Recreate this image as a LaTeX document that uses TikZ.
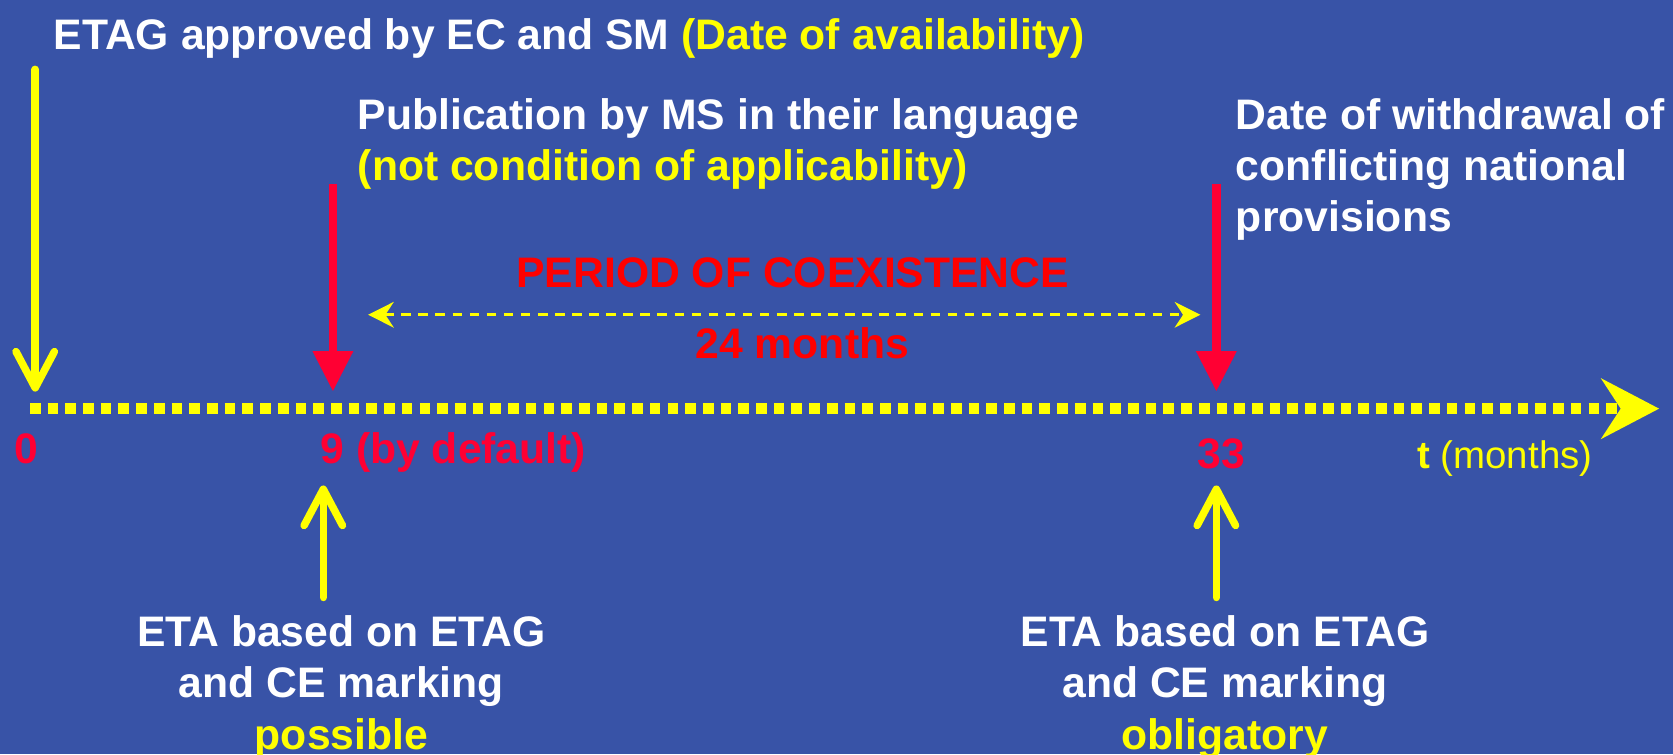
\documentclass[tikz,border=0pt]{standalone}
\usepackage{fontspec}
\setmainfont{Liberation Sans}
\usetikzlibrary{positioning, arrows.meta}
\definecolor{slide}{RGB}{56,83,167}
\definecolor{tick}{RGB}{255,0,51}
\definecolor{hot}{RGB}{255,0,0}
\definecolor{lemon}{RGB}{255,255,0}
\begin{document}
\begin{tikzpicture}[x=0.5pt, y=-0.5pt,
	txt/.style={font=\fontsize{20}{24}\selectfont\bfseries, text=white, inner sep=0pt},
	yarrow/.style={draw=lemon, line width=3.5pt, line cap=round, -{Straight Barb[length=17pt, width=18pt, line cap=round, line join=round]}},
	rarrow/.style={draw=tick, line width=4pt, -{Triangle[length=19pt, width=18pt]}}]
	\useasboundingbox (0,0) rectangle (1568,707);
	\fill[slide] (0,0) rectangle (1568,707);
	\node[txt, anchor=base west] (approved) at (50,46) {ETAG approved by EC and SM \textcolor{lemon}{(Date of availability)}};
	\node[txt, anchor=base west, align=left] (publication) at (335,169) {Publication by MS in their language\\\textcolor{lemon}{(not condition of applicability)}};
	\node[txt, anchor=base west, align=left] (withdrawal) at (1158,217) {Date of withdrawal of\\conflicting national\\provisions};
	\node[txt, text=hot, anchor=base] (period) at (743,269) {PERIOD OF COEXISTENCE};
	\node[txt, text=hot, anchor=base] (months24) at (752,336) {24 months};
	\node[txt, text=tick, anchor=base] (t0) at (25,434) {0};
	\node[txt, text=tick, anchor=base west] (t9) at (300,434) {9 (by default)};
	\node[txt, text=tick, anchor=base] (t33) at (1145,439) {33};
	\node[txt, text=lemon, anchor=base west, font=\fontsize{18}{22}\selectfont] (tunit) at (1328,439) {\textbf{t} (months)};
	\node[txt, anchor=base, align=center] (possible) at (320,702) {ETA based on ETAG\\and CE marking\\\textcolor{lemon}{possible}};
	\node[txt, anchor=base, align=center] (obligatory) at (1148,702) {ETA based on ETAG\\and CE marking\\\textcolor{lemon}{obligatory}};
	\coordinate (axstart) at (28,383);
	\coordinate (axend) at (1555,383);
	\coordinate (avail) at (33,65);
	\coordinate (availtip) at (33,367);
	\coordinate (pub) at (312,172);
	\coordinate (pubtip) at (312,367);
	\coordinate (wdr) at (1140,172);
	\coordinate (wdrtip) at (1140,367);
	\coordinate (poss) at (303,560);
	\coordinate (posstip) at (303,455);
	\coordinate (oblig) at (1140,560);
	\coordinate (obligtip) at (1140,455);
	\coordinate (coexl) at (345,295);
	\coordinate (coexr) at (1125,295);
	\draw[lemon, line width=5pt, dash pattern=on 5pt off 3.3pt, -{Stealth[length=27pt, width=28pt, inset=9pt]}] (axstart) -- (axend);
	\draw[yarrow] (avail) -- (availtip);
	\draw[rarrow] (pub) -- (pubtip);
	\draw[rarrow] (wdr) -- (wdrtip);
	\draw[yarrow] (poss) -- (posstip);
	\draw[yarrow] (oblig) -- (obligtip);
	\draw[lemon, line width=1.5pt, dash pattern=on 4.5pt off 3.5pt, {Stealth[length=12pt, width=12pt]}-{Stealth[length=12pt, width=12pt]}] (coexl) -- (coexr);
\end{tikzpicture}
\end{document}
